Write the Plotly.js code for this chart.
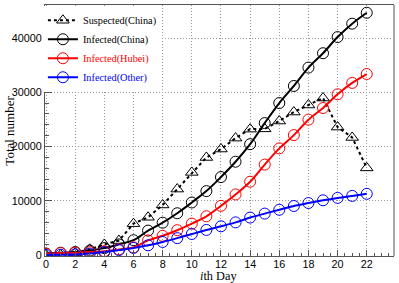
<!DOCTYPE html>
<html><head><meta charset="utf-8">
<script src="https://cdn.plot.ly/plotly-3.0.1.min.js"></script>
<style>html,body{margin:0;padding:0;background:#fff}#c{width:399px;height:283px}</style>
</head><body><div id="c"></div>
<script>
const days = [0,1,2,3,4,5,6,7,8,9,10,11,12,13,14,15,16,17,18,19,20,21,22];
const suspectedChina = [54,37,393,1072,1965,2684,5794,6973,9239,12167,15238,17988,19544,21558,23214,23260,24702,26359,27657,28942,23589,21675,16067];
const infectedChina = [291,440,571,830,1287,1975,2744,4515,5974,7711,9692,11791,14380,17205,20438,24324,28018,31161,34546,37198,40171,42638,44653];
const infectedHubei = [270,375,444,549,729,1052,1423,2714,3554,4586,5806,7153,9074,11177,13522,16678,19665,22112,24953,27100,29631,31728,33366];
const infectedOther = [21,65,127,281,558,923,1321,1801,2420,3125,3886,4638,5306,6028,6916,7646,8353,9049,9593,10098,10540,10910,11287];
const xTicks = [0,2,4,6,8,10,12,14,16,18,20,22];
const yTicks = [0,10000,20000,30000,40000];
const yTickText = ['0','10000','20000','30000','40000'];

const mk = (sym,color)=>({symbol:sym,size:11,color:color,line:{color:color,width:1}});
const traces = [
 {x:days,y:suspectedChina,mode:'lines+markers',name:'Suspected(China)',
  line:{color:'black',width:2,dash:'dot'},marker:mk('triangle-up-open','black')},
 {x:days,y:infectedChina,mode:'lines+markers',name:'Infected(China)',
  line:{color:'black',width:2,shape:'spline',smoothing:1},marker:mk('circle-open','black')},
 {x:days,y:infectedHubei,mode:'lines+markers',name:'<span style="color:#ff0000">Infected(Hubei)</span>',
  line:{color:'#ff0000',width:2,shape:'spline',smoothing:1},marker:mk('circle-open','#ff0000')},
 {x:days,y:infectedOther,mode:'lines+markers',name:'<span style="color:#0000ff">Infected(Other)</span>',
  line:{color:'#0000ff',width:2,shape:'spline',smoothing:1},marker:mk('circle-open','#0000ff')}
];
const tickFont = {family:'Liberation Sans, Arial, sans-serif',size:10.8,color:'#000'};
const layout = {
 width:399,height:283,margin:{l:45,r:6,t:5,b:27},
 paper_bgcolor:'#fff',plot_bgcolor:'#fff',
 showlegend:true,
 legend:{x:-0.006,y:0.997,xanchor:'left',yanchor:'top',bgcolor:'#fff',borderwidth:0,
   font:{family:'Liberation Serif, Times New Roman, serif',size:10.3,color:'#000'},
   itemwidth:30,tracegroupgap:0},
 xaxis:{range:[-0.07,23.8],tickvals:xTicks,ticks:'inside',ticklen:6,tickcolor:'#555',
   ticklabelstandoff:-2,
   showline:true,mirror:true,linecolor:'#555',linewidth:1,zeroline:false,
   showgrid:true,gridcolor:'#999',griddash:'1px,2px',gridwidth:1,tickfont:tickFont,
   minor:{dtick:0.5,ticks:'inside',ticklen:3,tickcolor:'#555',showgrid:false}},
 yaxis:{range:[-165,46080],tickvals:yTicks,ticktext:yTickText,ticks:'inside',ticklen:7,tickcolor:'#555',
   showline:true,mirror:true,linecolor:'#555',linewidth:1,zeroline:false,
   showgrid:true,gridcolor:'#999',griddash:'1px,2px',gridwidth:1,tickfont:tickFont,
   minor:{dtick:2000,ticks:'inside',ticklen:4,tickcolor:'#555',showgrid:false}},
 annotations:[
  {text:'<i>i</i>th Day',xref:'paper',yref:'paper',x:(218-45)/348,y:-0.08,xanchor:'center',yanchor:'middle',showarrow:false,
   font:{family:'Liberation Serif, Times New Roman, serif',size:12.3,color:'#000'}},
  {text:'Total number',xref:'paper',yref:'paper',x:-0.103,y:0.5,xanchor:'center',yanchor:'middle',textangle:-90,showarrow:false,
   font:{family:'Liberation Serif, Times New Roman, serif',size:13,color:'#000'}}
 ],
 shapes:[{type:'line',xref:'paper',yref:'paper',x0:1.003,x1:1.003,y0:0,y1:1,line:{color:'#aaa',width:2}}]
};
Plotly.newPlot('c',traces,layout,{staticPlot:true});
</script></body></html>
